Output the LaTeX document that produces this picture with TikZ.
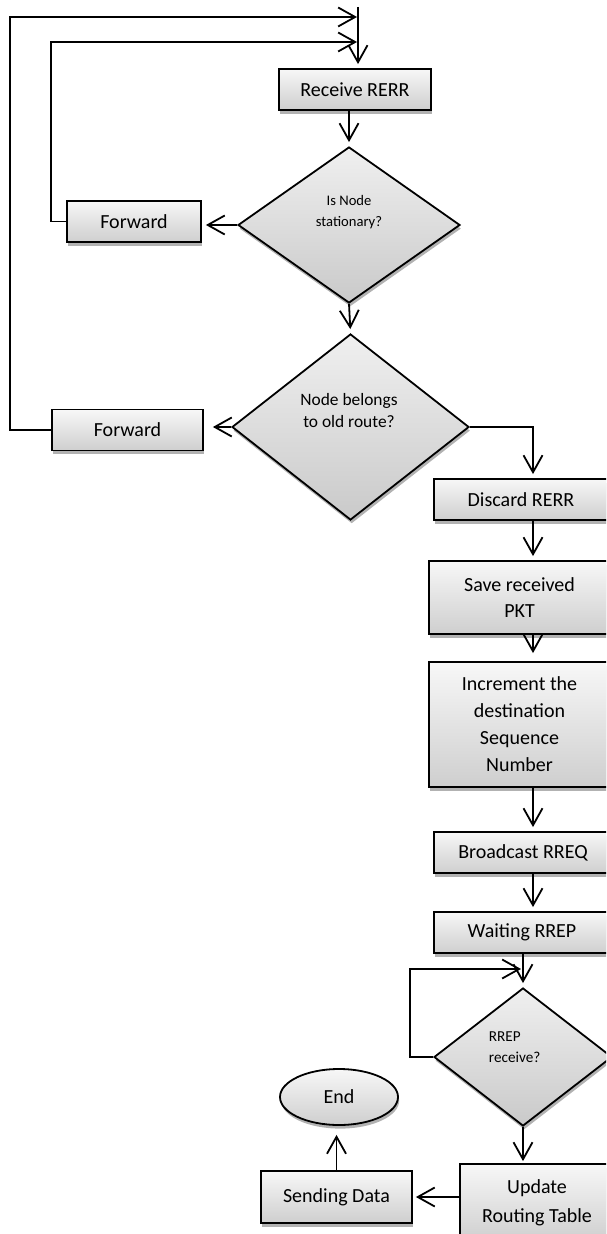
\documentclass[tikz,border=0pt]{standalone}
\usepackage{fontspec}
\setmainfont{Carlito}
\usetikzlibrary{shapes.geometric,arrows.meta,shadows}
\begin{document}
\begin{tikzpicture}[x=0.5pt,y=-0.5pt,
  line width=0.9pt,
  sh/.style={drop shadow={shadow xshift=0.6pt,shadow yshift=-1.8pt,fill=gray!60,opacity=1}},
  boxnode/.style={draw=black, rectangle, top color=gray!6, bottom color=gray!38, sh, inner sep=0pt, align=center, font=\fontsize{10}{13}\selectfont},
  dianode/.style={draw=black, diamond, top color=gray!12, bottom color=gray!42, sh, inner sep=0pt},
  dtext/.style={align=center, inner sep=0pt},
  arr/.style={-{Straight Barb[length=8.5pt,width=9.5pt]}, shorten >=2pt}
]
\useasboundingbox (0,0) rectangle (606,1234);
\clip (0,0) rectangle (606,1234);

\node[boxnode, minimum width=76pt, minimum height=20.5pt] (recv) at (355,89.5) {Receive RERR};
\node[dianode, minimum width=111pt, minimum height=78pt] (d1) at (349,225) {};
\node[dtext, font=\fontsize{7.3}{10.5}\selectfont] (t1) at (349,212) {Is Node\\stationary?};
\node[boxnode, minimum width=67pt, minimum height=20.5pt] (fwd1) at (134,221.5) {Forward};
\node[dianode, minimum width=118.5pt, minimum height=93pt] (d2) at (350.5,427) {};
\node[dtext, font=\fontsize{8.7}{11}\selectfont] (t2) at (349,411) {Node belongs\\to old route?};
\node[boxnode, minimum width=75.5pt, minimum height=20.5pt] (fwd2) at (127.5,430) {Forward};
\node[boxnode, minimum width=87pt, minimum height=20.5pt] (disc) at (521,499.5) {Discard RERR};
\node[boxnode, minimum width=90.5pt, minimum height=36.5pt] (save) at (519.5,597.5) {Save received\\PKT};
\node[boxnode, minimum width=90.5pt, minimum height=62.5pt, font=\fontsize{10}{13.5}\selectfont] (incr) at (519.5,724.5) {Increment the\\destination\\Sequence\\Number};
\node[boxnode, minimum width=89pt, minimum height=20.5pt] (bcast) at (523,852.5) {Broadcast RREQ};
\node[boxnode, minimum width=88pt, minimum height=20.5pt] (wait) at (522,932.5) {Waiting RREP};
\node[dianode, minimum width=89pt, minimum height=69pt] (d3) at (523,1057) {};
\node[dtext, align=left, anchor=west, font=\fontsize{7.6}{10.5}\selectfont] (t3) at (488,1047.5) {RREP\\receive?};
\node[boxnode, minimum width=77pt, minimum height=39pt, font=\fontsize{10}{14.5}\selectfont] (upd) at (537,1203) {Update\\Routing Table};
\node[boxnode, minimum width=75.5pt, minimum height=26pt] (send) at (336.5,1197) {Sending Data};
\node[draw=black, ellipse, top color=gray!6, bottom color=gray!38, sh, inner sep=0pt, minimum width=59pt, minimum height=28pt, font=\fontsize{10}{13}\selectfont] (end) at (339,1097) {End};

\coordinate (top) at (358,7);
\coordinate (j1) at (358,17);
\coordinate (j2) at (358,42);
\coordinate (cx) at (533,0);
\coordinate (lp) at (523,969);

\draw[arr] (top) -- (top |- recv.north);
\draw[arr, shorten >=0.5pt] (fwd2.west) -- ++(-41,0) |- (j1);
\draw[arr, shorten >=0.5pt] (fwd1.west) -- ++(-15,0) |- (j2);
\draw[arr] (d1.north |- recv.south) -- (d1.north);
\draw[arr] (d1.west) -- (d1.west -| fwd1.east);
\draw[arr] (d1.south) -- (d2.north);
\draw[arr, shorten >=4.5pt] (d2.west) -- (d2.west -| fwd2.east);
\draw[arr] (d2.east) -| (disc.north -| cx);
\draw[arr] (disc.south -| cx) -- (save.north -| cx);
\draw[arr, shorten >=4pt] (save.south -| cx) -- (incr.north -| cx);
\draw[arr] (incr.south -| cx) -- (bcast.north -| cx);
\draw[arr] (bcast.south -| cx) -- (wait.north -| cx);
\draw[arr] (d3.north |- wait.south) -- (d3.north);
\draw[arr, shorten >=1pt] (d3.west) -- ++(-23,0) |- (lp);
\draw[arr, shorten >=1pt] (d3.south) -- (d3.south |- upd.north);
\draw[arr, shorten >=1.5pt] (upd.west |- send.east) -- (send.east);
\draw[arr, shorten >=4.5pt] (send.north) -- (send.north |- end.south);
\end{tikzpicture}
\end{document}
